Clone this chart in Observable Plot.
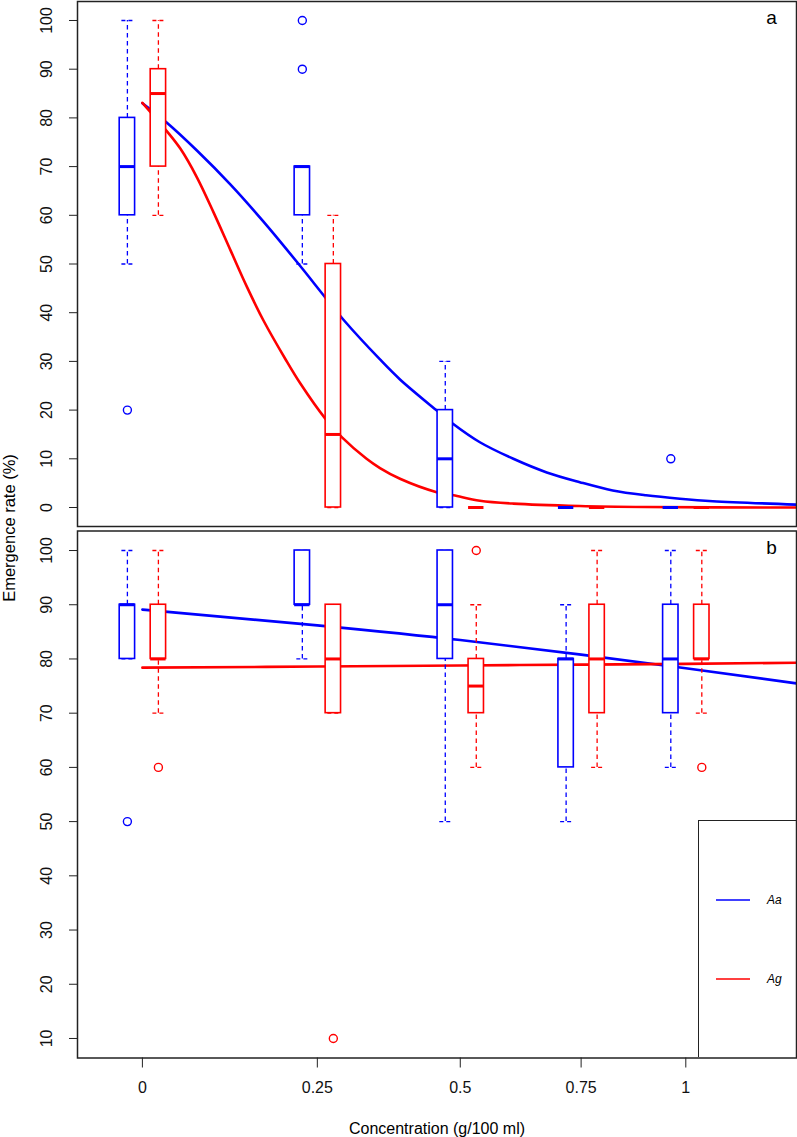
<!DOCTYPE html>
<html><head><meta charset="utf-8">
<script src="https://cdn.jsdelivr.net/npm/d3@7"></script>
<script src="https://cdn.jsdelivr.net/npm/@observablehq/plot@0.6"></script>
<style>
body{margin:0;background:#fff;}
#wrap{position:relative;width:797px;height:1137px;overflow:hidden;font-family:"Liberation Sans",Arial,sans-serif;}
#wrap > svg{position:absolute;left:0;}
.ylab{position:absolute;left:9px;top:528px;transform:translate(-50%,-50%) rotate(-90deg);white-space:nowrap;font-size:16.5px;color:#000;}
.legend{position:absolute;left:698px;top:820px;width:120px;height:237px;border-left:1.3px solid #222;border-top:1.3px solid #222;box-sizing:border-box;}
</style></head><body>
<div id="wrap"></div>
<script>
// ---------- data ----------
const conc = [0, 0.25, 0.5, 0.75, 1];
const xTicks = [0, 0.25, 0.5, 0.75, 1];
const xTickLabels = ["0", "0.25", "0.5", "0.75", "1"];
const yTicksA = [0, 10, 20, 30, 40, 50, 60, 70, 80, 90, 100];
const yTicksB = [10, 20, 30, 40, 50, 60, 70, 80, 90, 100];

// Panel a — boxplot summaries (Aa blue, Ag red)
const aAaLow  = [50, 50, 0, 0, 0];
const aAaQ1   = [60, 60, 0, 0, 0];
const aAaMed  = [70, 70, 10, 0, 0];
const aAaQ3   = [80, 70, 20, 0, 0];
const aAaHigh = [100, 70, 30, 0, 0];
const aAgLow  = [60, 0, 0, 0, 0];
const aAgQ1   = [70, 0, 0, 0, 0];
const aAgMed  = [85, 15, 0, 0, 0];
const aAgQ3   = [90, 50, 0, 0, 0];
const aAgHigh = [100, 60, 0, 0, 0];
const aAaOutConc = [0, 0.25, 0.25, 1];
const aAaOutRate = [20, 90, 100, 10];

// Panel a — fitted curves
const aAaCurveConc = [0, 0.031, 0.072, 0.119, 0.167, 0.218, 0.263, 0.292, 0.354, 0.389, 0.457, 0.486, 0.538, 0.605, 0.675, 0.747, 0.822, 0.901, 0.985, 1.070, 1.303];
const aAaCurveRate = [83.0, 79.1, 73.3, 66.3, 58.7, 50.4, 43.1, 38.6, 30.4, 26.3, 19.8, 17.2, 13.4, 10.0, 7.2, 5.2, 3.5, 2.5, 1.8, 1.3, 0.6];
const aAgCurveConc = [0, 0.031, 0.050, 0.072, 0.095, 0.119, 0.143, 0.167, 0.200, 0.223, 0.263, 0.290, 0.331, 0.354, 0.389, 0.457, 0.487, 0.538, 0.605, 0.747, 0.901, 1.303];
const aAgCurveRate = [83.1, 77.4, 73.6, 67.8, 60.6, 52.8, 45.2, 38.4, 30.5, 25.5, 18.2, 14.4, 10.0, 8.1, 5.9, 3.1, 2.5, 1.4, 0.8, 0.3, 0.1, 0.0];

// Panel b — boxplot summaries
const bAaLow  = [80, 80, 50, 50, 60];
const bAaQ1   = [80, 90, 80, 60, 70];
const bAaMed  = [90, 90, 90, 80, 80];
const bAaQ3   = [90, 100, 100, 80, 90];
const bAaHigh = [100, 100, 100, 90, 100];
const bAgLow  = [70, 70, 60, 60, 70];
const bAgQ1   = [80, 70, 70, 70, 80];
const bAgMed  = [80, 80, 75, 80, 80];
const bAgQ3   = [90, 90, 80, 90, 90];
const bAgHigh = [100, 90, 90, 100, 100];
const bAaOutConc = [0];
const bAaOutRate = [50];
const bAgOutConc = [0, 0.25, 0.5, 1];
const bAgOutRate = [60, 10, 100, 60];

// Panel b — fitted lines
const bLineConc = [0, 0.25, 0.5, 0.75, 1, 1.303];
const bAaLineRate = [89.1, 86.2, 83.5, 80.8, 78.3, 75.5];
const bAgLineRate = [78.4, 78.6, 78.8, 78.95, 79.1, 79.3];

// ---------- helpers ----------
const BLUE = "#0000ff", RED = "#ff0000";
const FONT = '"Liberation Sans", Arial, sans-serif';
const xScale = {type: "symlog", constant: 1, domain: [-0.0863, 1.3033]};
const rowsOf = (low, q1, med, q3, high) => conc.map((c, i) => ({c, low: low[i], q1: q1[i], med: med[i], q3: q3[i], high: high[i]}));
const pts = (cs, vs) => cs.map((c, i) => ({c, v: vs[i]}));

function boxMarks(rows, color, dx) {
  const dash = "4.5,3.5";
  const cap = {x1: "c", x2: "c", insetLeft: -5.5, insetRight: -5.5, dx, stroke: color, strokeWidth: 1.3, strokeDasharray: "4,3"};
  return [
    Plot.ruleX(rows, {x: "c", y1: "q3", y2: "high", dx, stroke: color, strokeWidth: 1.3, strokeDasharray: dash}),
    Plot.ruleX(rows, {x: "c", y1: "low", y2: "q1", dx, stroke: color, strokeWidth: 1.3, strokeDasharray: dash}),
    Plot.ruleY(rows, {y: "high", ...cap}),
    Plot.ruleY(rows, {y: "low", ...cap}),
    Plot.rect(rows, {x1: "c", x2: "c", y1: "q1", y2: "q3", insetLeft: -7.7, insetRight: -7.7, dx, fill: "white", stroke: color, strokeWidth: 1.6}),
    Plot.ruleY(rows, {y: "med", x1: "c", x2: "c", insetLeft: -7.7, insetRight: -7.7, dx, stroke: color, strokeWidth: 3})
  ];
}
const outMarks = (cs, vs, color, dx) => Plot.dot(pts(cs, vs), {x: "c", y: "v", dx, r: 4, stroke: color, strokeWidth: 1.4, fill: "none"});
const yLabels = (ticks) => Plot.text(ticks, {y: d => d, text: d => String(d), frameAnchor: "left", textAnchor: "middle", lineAnchor: "middle", dx: -31, rotate: -90, fontSize: 16, fill: "#111"});
const DXB = -15, DXR = 16;

// ---------- panel a ----------
const plotA = Plot.plot({
  width: 797, height: 528,
  marginLeft: 77, marginRight: 1, marginTop: 1, marginBottom: 2,
  x: {...xScale, axis: null},
  y: {domain: [-3.9, 103.9], ticks: yTicksA, tickSize: 8, tickFormat: () => "", label: null},
  style: {fontFamily: FONT, fontSize: "16px", background: "transparent", overflow: "visible", color: "#222"},
  marks: [
    Plot.line(pts(aAaCurveConc, aAaCurveRate), {x: "c", y: "v", stroke: BLUE, strokeWidth: 2.6, curve: "catmull-rom"}),
    Plot.line(pts(aAgCurveConc, aAgCurveRate), {x: "c", y: "v", stroke: RED, strokeWidth: 2.6, curve: "catmull-rom"}),
    ...boxMarks(rowsOf(aAaLow, aAaQ1, aAaMed, aAaQ3, aAaHigh), BLUE, DXB),
    ...boxMarks(rowsOf(aAgLow, aAgQ1, aAgMed, aAgQ3, aAgHigh), RED, DXR),
    outMarks(aAaOutConc, aAaOutRate, BLUE, DXB),
    yLabels(yTicksA),
    Plot.text(["a"], {text: d => d, frameAnchor: "top-right", textAnchor: "middle", dx: -25, dy: 22.5, lineAnchor: "bottom", fontSize: 19, fill: "#000"}),
    Plot.frame({stroke: "#222", strokeWidth: 1.5})
  ]
});
plotA.style.top = "0px";

// ---------- panel b ----------
const plotB = Plot.plot({
  width: 797, height: 609,
  marginLeft: 77, marginRight: 1, marginTop: 2.5, marginBottom: 79.5,
  x: {...xScale, ticks: xTicks, tickSize: 10, tickFormat: () => "", label: null},
  y: {domain: [6.4, 103.6], ticks: yTicksB, tickSize: 8, tickFormat: () => "", label: null},
  style: {fontFamily: FONT, fontSize: "16px", background: "transparent", overflow: "visible", color: "#222"},
  marks: [
    Plot.line(pts(bLineConc, bAaLineRate), {x: "c", y: "v", stroke: BLUE, strokeWidth: 2.6, curve: "monotone-x"}),
    Plot.line(pts(bLineConc, bAgLineRate), {x: "c", y: "v", stroke: RED, strokeWidth: 2.6, curve: "monotone-x"}),
    ...boxMarks(rowsOf(bAaLow, bAaQ1, bAaMed, bAaQ3, bAaHigh), BLUE, DXB),
    ...boxMarks(rowsOf(bAgLow, bAgQ1, bAgMed, bAgQ3, bAgHigh), RED, DXR),
    outMarks(bAaOutConc, bAaOutRate, BLUE, DXB),
    outMarks(bAgOutConc, bAgOutRate, RED, DXR),
    yLabels(yTicksB),
    Plot.text(xTicks, {x: d => d, text: (d, i) => xTickLabels[i], frameAnchor: "bottom", dy: 30, lineAnchor: "middle", fontSize: 16, fill: "#111"}),
    Plot.text(["Concentration (g/100 ml)"], {text: d => d, frameAnchor: "bottom", dy: 70.5, lineAnchor: "middle", fontSize: 16, fill: "#000"}),
    Plot.text(["b"], {text: d => d, frameAnchor: "top-right", textAnchor: "middle", dx: -25, dy: 22.5, lineAnchor: "bottom", fontSize: 19, fill: "#000"}),
    Plot.frame({stroke: "#222", strokeWidth: 1.5})
  ]
});
plotB.style.top = "528px";

const wrap = document.getElementById("wrap");
wrap.appendChild(plotA);
wrap.appendChild(plotB);

const ylab = document.createElement("div");
ylab.className = "ylab";
ylab.textContent = "Emergence rate (%)";
wrap.appendChild(ylab);

const legend = document.createElement("div");
legend.className = "legend";
legend.innerHTML = `<svg width="120" height="237" style="display:block;font-family:${FONT.replace(/"/g, "'")}">
  <line x1="17" x2="51" y1="79" y2="79" stroke="${BLUE}" stroke-width="1.5"/>
  <text x="68" y="83" font-size="12" font-style="italic">Aa</text>
  <line x1="17" x2="51" y1="158" y2="158" stroke="${RED}" stroke-width="1.5"/>
  <text x="68" y="162" font-size="12" font-style="italic">Ag</text>
</svg>`;
wrap.appendChild(legend);
</script>
</body></html>
